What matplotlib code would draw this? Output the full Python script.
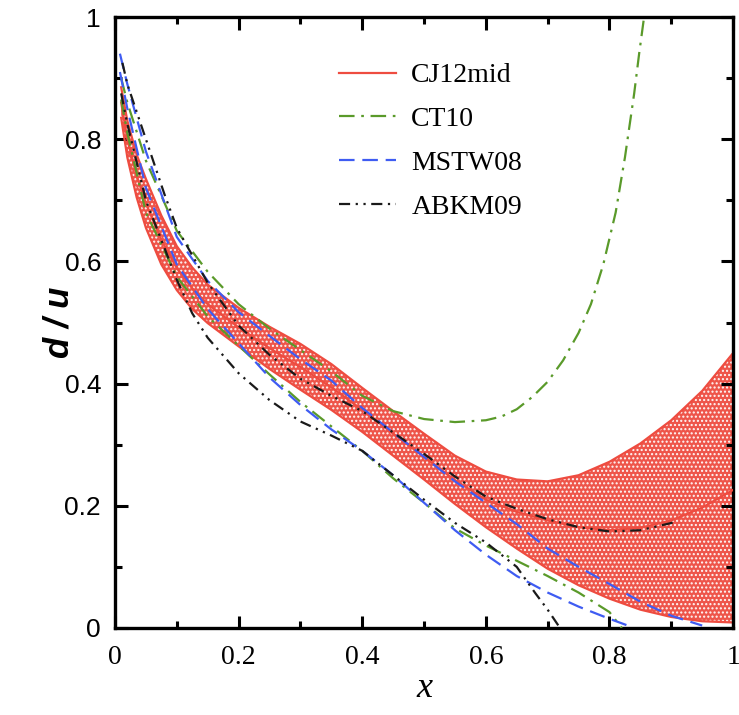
import matplotlib
matplotlib.use("Agg")
import matplotlib.pyplot as plt
from matplotlib.ticker import MultipleLocator

# ---------------- data ----------------
cj_x = [0.01, 0.02, 0.035, 0.05, 0.075, 0.1, 0.125, 0.15, 0.2, 0.25, 0.3, 0.35,
        0.4, 0.45, 0.5, 0.55, 0.6, 0.65, 0.7, 0.75, 0.8, 0.85, 0.9, 0.95, 1.0]
cj_upper = [0.885, 0.83, 0.775, 0.735, 0.675, 0.625, 0.59, 0.562, 0.524, 0.493,
            0.465, 0.432, 0.393, 0.355, 0.318, 0.282, 0.256, 0.243, 0.240, 0.250,
            0.272, 0.302, 0.340, 0.388, 0.450]
cj_lower = [0.835, 0.77, 0.705, 0.655, 0.595, 0.553, 0.522, 0.499, 0.461, 0.424,
            0.39, 0.357, 0.321, 0.282, 0.243, 0.203, 0.165, 0.13, 0.097, 0.07,
            0.048, 0.03, 0.018, 0.011, 0.009]
cj_mid = [0.86, 0.80, 0.74, 0.695, 0.635, 0.589, 0.556, 0.53, 0.492, 0.458,
          0.427, 0.394, 0.357, 0.318, 0.28, 0.242, 0.21, 0.19, 0.176, 0.165,
          0.16, 0.164, 0.176, 0.197, 0.226]

ct10_up_x = [0.01, 0.02, 0.05, 0.1, 0.15, 0.2, 0.25, 0.3, 0.35, 0.4, 0.45, 0.5,
             0.55, 0.6, 0.625, 0.65, 0.675, 0.7, 0.725, 0.75, 0.77, 0.79, 0.81,
             0.825, 0.84, 0.848, 0.856]
ct10_up_y = [0.90, 0.86, 0.765, 0.65, 0.583, 0.53, 0.49, 0.455, 0.42, 0.38, 0.355,
             0.342, 0.337, 0.34, 0.346, 0.358, 0.378, 0.403, 0.438, 0.483, 0.53,
             0.595, 0.68, 0.77, 0.875, 0.94, 1.0]
ct10_lo_x = [0.01, 0.02, 0.05, 0.1, 0.15, 0.2, 0.25, 0.3, 0.35, 0.4, 0.45, 0.5,
             0.55, 0.6, 0.65, 0.7, 0.75, 0.8, 0.82]
ct10_lo_y = [0.865, 0.81, 0.68, 0.575, 0.51, 0.462, 0.415, 0.37, 0.33, 0.29, 0.245,
             0.205, 0.163, 0.135, 0.11, 0.085, 0.058, 0.026, 0.0]

mstw_up_x = [0.008, 0.02, 0.05, 0.1, 0.15, 0.2, 0.25, 0.3, 0.35, 0.4, 0.45, 0.5,
             0.55, 0.6, 0.65, 0.7, 0.75, 0.8, 0.85, 0.9, 0.95]
mstw_up_y = [0.94, 0.89, 0.78, 0.64, 0.568, 0.517, 0.478, 0.44, 0.405, 0.36, 0.32,
             0.28, 0.24, 0.205, 0.17, 0.13, 0.10, 0.072, 0.043, 0.02, 0.004]
mstw_lo_x = [0.008, 0.02, 0.05, 0.1, 0.15, 0.2, 0.25, 0.3, 0.35, 0.4, 0.45, 0.5,
             0.55, 0.6, 0.65, 0.7, 0.75, 0.8, 0.835]
mstw_lo_y = [0.91, 0.85, 0.72, 0.595, 0.522, 0.466, 0.41, 0.365, 0.325, 0.29, 0.25,
             0.205, 0.16, 0.12, 0.085, 0.058, 0.035, 0.015, 0.002]

abkm_up_x = [0.012, 0.02, 0.05, 0.08, 0.1, 0.15, 0.2, 0.25, 0.3, 0.35, 0.4, 0.45,
             0.5, 0.55, 0.6, 0.65, 0.7, 0.75, 0.8, 0.85, 0.905]
abkm_up_y = [0.925, 0.89, 0.80, 0.71, 0.655, 0.565, 0.495, 0.447, 0.408, 0.38, 0.355,
             0.32, 0.285, 0.248, 0.215, 0.195, 0.178, 0.165, 0.158, 0.16, 0.173]
abkm_lo_x = [0.01, 0.02, 0.05, 0.1, 0.125, 0.15, 0.2, 0.25, 0.3, 0.35, 0.4, 0.45,
             0.5, 0.55, 0.6, 0.65, 0.68, 0.7, 0.72]
abkm_lo_y = [0.875, 0.825, 0.70, 0.57, 0.515, 0.475, 0.417, 0.373, 0.338, 0.315, 0.29,
             0.25, 0.21, 0.172, 0.14, 0.10, 0.057, 0.03, 0.0]

labels = ["CJ12mid", "CT10", "MSTW08", "ABKM09"]
xticks = [0, 0.2, 0.4, 0.6, 0.8, 1]
xticklabels = ["0", "0.2", "0.4", "0.6", "0.8", "1"]
yticks = [0, 0.2, 0.4, 0.6, 0.8, 1]
yticklabels = ["0", "0.2", "0.4", "0.6", "0.8", "1"]

# ---------------- styling ----------------
RED = "#ee4c40"
GREEN = "#5a9a2a"
BLUE = "#3f5cf2"
BLACK = "#1a1a1a"

plt.rcParams["hatch.linewidth"] = 1.0
plt.rcParams["hatch.color"] = "white"

fig = plt.figure(figsize=(7.39, 7.15), dpi=100)
ax = fig.add_axes([0.1556, 0.1217, 0.8364, 0.8545])

ax.fill_between(cj_x, cj_lower, cj_upper, facecolor=RED, edgecolor="white",
                hatch="....", linewidth=0, alpha=0.95, zorder=1)
ax.plot(cj_x, cj_upper, color=RED, lw=1.6, zorder=2)
ax.plot(cj_x, cj_lower, color=RED, lw=1.6, zorder=2)
l_cj, = ax.plot(cj_x, cj_mid, color=RED, lw=1.6, zorder=3)

ct_dash = (0, (7, 3, 1.2, 3))
l_ct, = ax.plot(ct10_up_x, ct10_up_y, color=GREEN, lw=1.6, ls=ct_dash, zorder=4)
ax.plot(ct10_lo_x, ct10_lo_y, color=GREEN, lw=1.6, ls=ct_dash, zorder=4)

ms_dash = (0, (7, 3.5))
l_ms, = ax.plot(mstw_up_x, mstw_up_y, color=BLUE, lw=1.6, ls=ms_dash, zorder=4)
ax.plot(mstw_lo_x, mstw_lo_y, color=BLUE, lw=1.6, ls=ms_dash, zorder=4)

ab_dash = (0, (5, 2.5, 1, 2.5, 1, 2.5))
l_ab, = ax.plot(abkm_up_x, abkm_up_y, color=BLACK, lw=1.6, ls=ab_dash, zorder=4)
ax.plot(abkm_lo_x, abkm_lo_y, color=BLACK, lw=1.6, ls=ab_dash, zorder=4)

ax.set_xlim(0, 1)
ax.set_ylim(0, 1)

ax.xaxis.set_minor_locator(MultipleLocator(0.1))
ax.yaxis.set_minor_locator(MultipleLocator(0.1))
ax.set_xticks(xticks)
ax.set_xticklabels(xticklabels, family="Liberation Serif", fontsize=20)
ax.set_yticks(yticks)
ax.set_yticklabels(yticklabels, family="Liberation Sans", fontsize=19)
ax.tick_params(which="both", direction="in", top=True, right=True, width=2.2)
ax.tick_params(which="major", length=9)
ax.tick_params(which="minor", length=5)
ax.tick_params(axis="y", which="major", pad=10)
ax.tick_params(axis="x", which="major", pad=12)
for s in ax.spines.values():
    s.set_linewidth(2.4)

ax.set_ylabel("d / u", family="Liberation Sans", weight="bold", style="italic",
              fontsize=25, labelpad=-8)
ax.set_xlabel("x", family="Liberation Serif", style="italic", fontsize=26, labelpad=2)

leg = ax.legend([l_cj, l_ct, l_ms, l_ab], labels, loc="upper left",
                bbox_to_anchor=(0.322, 0.966), frameon=False,
                prop={"family": "Liberation Serif", "size": 20},
                handlelength=2.05, handletextpad=0.55, labelspacing=0.66)

fig.savefig("out.png", dpi=100)
